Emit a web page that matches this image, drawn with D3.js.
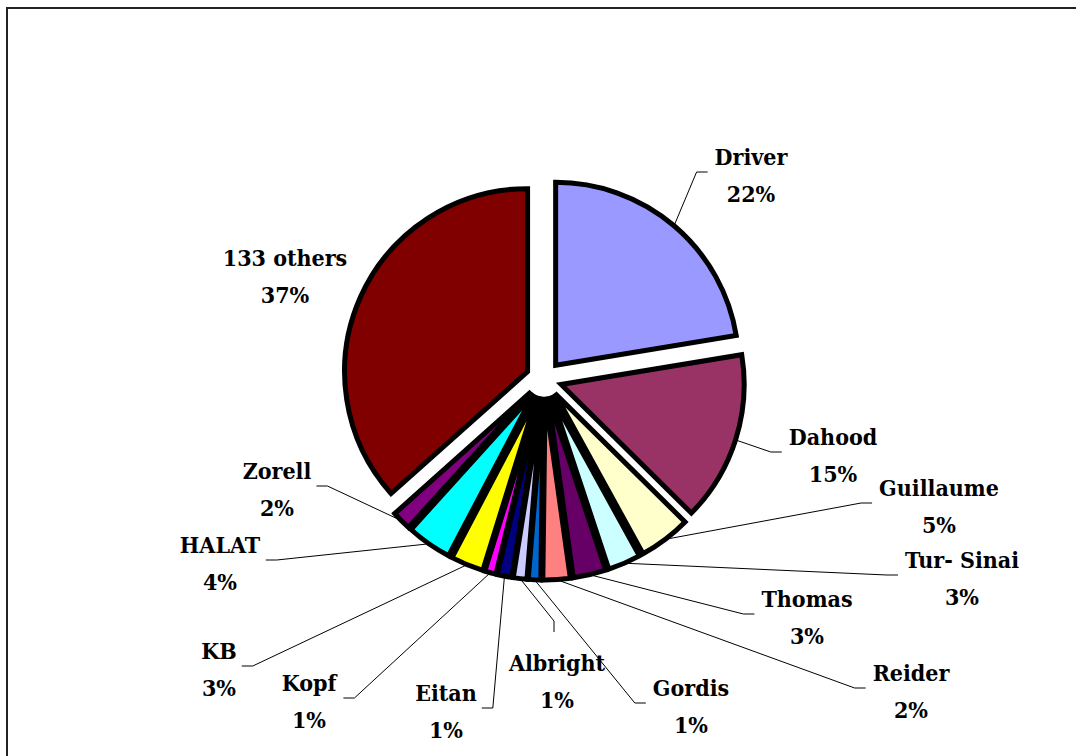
<!DOCTYPE html>
<html>
<head>
<meta charset="utf-8">
<script src="https://cdn.jsdelivr.net/npm/d3@7"></script>
<style>
body { margin: 0; background: #fff; }
text { font-family: "DejaVu Serif Condensed", "DejaVu Serif", serif; font-stretch: condensed; font-weight: bold; font-size: 23px; fill: #000; white-space: pre; }
</style>
</head>
<body>
<div id="chart"></div>
<script>
// slice names, clockwise from 12 o'clock
const names = ["Driver", "Dahood", "Guillaume", "Tur- Sinai", "Thomas", "Reider", "Gordis",
               "Albright", "Eitan", "Kopf", "KB", "HALAT", "Zorell", "133 others"];
// share of each slice (percent)
const shares = [22.4, 15.0, 4.6, 2.9, 2.9, 2.4, 1.1, 1.2, 1.3, 1.0, 2.9, 4.0, 1.7, 36.6];
const colors = ["#9999FF", "#993366", "#FFFFCC", "#CCFFFF", "#660066", "#FF8080", "#0066CC",
                "#CCCCFF", "#000080", "#FF00FF", "#FFFF00", "#00FFFF", "#800080", "#800000"];

// where each label (name line) was dragged to, and which side the leader joins
const labelAt = [[751,157],[833,437],[939,488],[962,560],[807,599],[911,673],[691,688],
                 [557,663],[446,693],[309,683],[219,651],[220,545],[277,471],[285,258]];
const leaderSide = ["left","left","left","left","left","left","left",
                    "top","right","right","right","right","right","none"];

var width = 1076, height = 756;
var cx = 544, cy = 379, R = 183, explode = 18;

let svg = d3.select("#chart").append("svg")
            .attr("width", width)
            .attr("height", height);

// chart area frame (runs off the right and bottom of the picture)
svg.append("rect")
   .attr("x", 7).attr("y", 8)
   .attr("width", 1100).attr("height", 800)
   .attr("fill", "none")
   .attr("stroke", "#222")
   .attr("stroke-width", 2);

let data = names.map((n, i) => ({name: n, value: shares[i], color: colors[i], i: i}));
let total = d3.sum(shares);

let pie = d3.pie().value(d => d.value).sort(null);
let arcs = pie(data);
let arc = d3.arc().innerRadius(0).outerRadius(R);

// offset of each exploded slice
arcs.forEach(a => {
    let mid = (a.startAngle + a.endAngle) / 2;
    a.mid = mid;
    a.ox = cx + explode * Math.sin(mid);
    a.oy = cy - explode * Math.cos(mid);
    a.edge = [a.ox + R * Math.sin(mid), a.oy - R * Math.cos(mid)];
});

let leaders = svg.append("g");
let pieG = svg.append("g");
let labels = svg.append("g");

pieG.selectAll("path")
    .data(arcs)
    .enter()
    .append("path")
    .attr("transform", d => "translate(" + d.ox + "," + d.oy + ")")
    .attr("d", arc)
    .attr("fill", d => d.data.color)
    .attr("stroke", "#000")
    .attr("stroke-width", 5)
    .attr("stroke-linejoin", "miter");

arcs.forEach((a, i) => {
    let g = labels.append("g");
    let lx = labelAt[i][0], ly = labelAt[i][1];
    g.append("text")
     .attr("x", lx).attr("y", ly + 8)
     .attr("text-anchor", "middle")
     .text(a.data.name);
    g.append("text")
     .attr("x", lx).attr("y", ly + 45)
     .attr("text-anchor", "middle")
     .text(Math.round(a.data.value / total * 100) + "%");

    let side = leaderSide[i];
    if (side == "none") return;
    let bb = g.node().getBBox();
    let my = bb.y + bb.height / 2 - 3;
    let pts;
    if (side == "left") {
        let ex = bb.x - 7;
        pts = [a.edge, [ex - 11, my], [ex, my]];
    } else if (side == "right") {
        let ex = bb.x + bb.width + 5;
        pts = [a.edge, [ex + 11, my], [ex, my]];
    } else {
        let ex = lx - 3, ey = bb.y - 17;
        pts = [a.edge, [ex, ey - 11], [ex, ey]];
    }
    leaders.append("path")
           .attr("d", d3.line()(pts))
           .attr("fill", "none")
           .attr("stroke", "#000")
           .attr("stroke-width", 1);
});
</script>
</body>
</html>
